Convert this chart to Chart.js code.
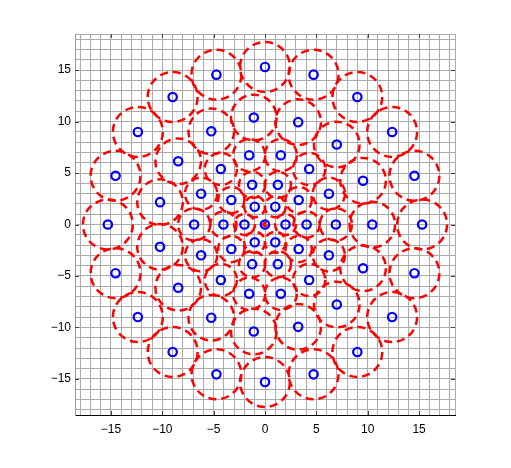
<!DOCTYPE html>
<html><head><meta charset="utf-8">
<script src="https://cdn.jsdelivr.net/npm/chart.js@4/dist/chart.umd.min.js"></script>
<style>html,body{margin:0;padding:0;background:#fff}</style>
</head><body>
<canvas id="c" width="511" height="468" style="display:block;width:511px;height:468px"></canvas>
<script>
// Element centres
const pointX = [0,
  2, 1, -1, -2, -1, 1,
  4.05, 3.28, 1.25, -1.25, -3.28, -4.05, -3.28, -1.25, 1.25, 3.28,
  6.9, 6.22, 4.30, 1.54, -1.54, -4.30, -6.22, -6.9, -6.22, -4.30, -1.54, 1.54, 4.30, 6.22,
  10.45, 9.55, 6.99, 3.23, -1.09, -5.23, -8.45, -10.22, -10.22, -8.45, -5.23, -1.09, 3.23, 6.99, 9.55,
  15.3, 14.55, 12.38, 8.99, 4.73, 0, -4.73, -8.99, -12.38, -14.55, -15.3, -14.55, -12.38, -8.99, -4.73, 0, 4.73, 8.99, 12.38, 14.55];
const pointY = [0,
  0, 1.73, 1.73, 0, -1.73, -1.73,
  0, 2.38, 3.85, 3.85, 2.38, 0, -2.38, -3.85, -3.85, -2.38,
  0, 2.99, 5.39, 6.73, 6.73, 5.39, 2.99, 0, -2.99, -5.39, -6.73, -6.73, -5.39, -2.99,
  0, 4.25, 7.77, 9.94, 10.39, 9.05, 6.14, 2.17, -2.17, -6.14, -9.05, -10.39, -9.94, -7.77, -4.25,
  0, 4.73, 8.99, 12.38, 14.55, 15.3, 14.55, 12.38, 8.99, 4.73, 0, -4.73, -8.99, -12.38, -14.55, -15.3, -14.55, -12.38, -8.99, -4.73];
// Radius (data units) of the dashed circle around each element
const circleR = [0.15,
  1.02, 1.02, 1.02, 1.02, 1.02, 1.02,
  1.28, 1.28, 1.28, 1.28, 1.28, 1.28, 1.28, 1.28, 1.28, 1.28,
  1.57, 1.57, 1.57, 1.57, 1.57, 1.57, 1.57, 1.57, 1.57, 1.57, 1.57, 1.57, 1.57, 1.57,
  2.22, 2.22, 2.22, 2.22, 2.22, 2.22, 2.22, 2.22, 2.22, 2.22, 2.22, 2.22, 2.22, 2.22, 2.22,
  2.43, 2.43, 2.43, 2.43, 2.43, 2.43, 2.43, 2.43, 2.43, 2.43, 2.43, 2.43, 2.43, 2.43, 2.43, 2.43, 2.43, 2.43, 2.43, 2.43];
const tickValues = [-15, -10, -5, 0, 5, 10, 15];
const axisMin = -18.5, axisMax = 18.5;

const pts = pointX.map((x, i) => ({x: x, y: pointY[i]}));
const gridTicks = [axisMin];
for (let v = Math.ceil(axisMin); v <= Math.floor(axisMax); v++) gridTicks.push(v);
gridTicks.push(axisMax);

const fmt = v => (v < 0 ? '\u2212' + Math.abs(v) : String(v));
const FONT = {family: "'Liberation Sans', Arial, Helvetica, sans-serif", size: 12};

const dashPlugin = {
  id: 'dash',
  beforeDatasetDraw(chart, args) { if (args.index === 1) chart.ctx.setLineDash([8, 5]); },
  afterDatasetDraw(chart, args) { if (args.index === 1) chart.ctx.setLineDash([]); }
};
const innerTicks = {
  id: 'innerTicks',
  afterDraw(chart) {
    const {ctx, chartArea: a, scales: {x, y}} = chart;
    ctx.save();
    ctx.strokeStyle = '#444';
    ctx.lineWidth = 1;
    ctx.beginPath();
    tickValues.forEach(v => {
      const px = Math.round(x.getPixelForValue(v)) + 0.5;
      const py = Math.round(y.getPixelForValue(v)) + 0.5;
      ctx.moveTo(px, a.bottom); ctx.lineTo(px, a.bottom - 4);
      ctx.moveTo(px, a.top); ctx.lineTo(px, a.top + 4);
      ctx.moveTo(a.left, py); ctx.lineTo(a.left + 4, py);
      ctx.moveTo(a.right, py); ctx.lineTo(a.right - 4, py);
    });
    ctx.stroke();
    ctx.restore();
  }
};

function axis(isX) {
  return {
    type: 'linear', min: axisMin, max: axisMax,
    afterBuildTicks: s => { s.ticks = gridTicks.map(v => ({value: v})); },
    afterFit: s => { if (isX) s.height = 53; else s.width = 75; },
    ticks: {
      autoSkip: false, maxRotation: 0, minRotation: 0,
      callback: v => (tickValues.includes(v) ? fmt(v) : ''),
      color: '#000', font: FONT, padding: isX ? 7 : 4
    },
    grid: {color: '#ababab', lineWidth: 1, drawTicks: false},
    border: {color: isX ? '#000' : '#9a9a9a', width: 1}
  };
}

new Chart(document.getElementById('c'), {
  type: 'scatter',
  data: {
    datasets: [
      {
        label: 'elements', data: pts,
        pointRadius: 4.2, pointBorderWidth: 2.2,
        pointBorderColor: '#0000ff', pointBackgroundColor: 'rgba(0,0,0,0)'
      },
      {
        label: 'circles', data: pts,
        pointRadius: ctx => {
          const s = ctx.chart.scales.x;
          if (!s) return 0;
          return Math.abs(s.getPixelForValue(circleR[ctx.dataIndex]) - s.getPixelForValue(0));
        },
        pointBorderWidth: 2.5,
        pointBorderColor: '#ff0000', pointBackgroundColor: 'rgba(0,0,0,0)'
      }
    ]
  },
  options: {
    responsive: false, devicePixelRatio: 1, animation: false, events: [],
    layout: {padding: {left: 0, top: 34, right: 56, bottom: 0}},
    plugins: {legend: {display: false}, tooltip: {enabled: false}},
    scales: {x: axis(true), y: axis(false)}
  },
  plugins: [dashPlugin, innerTicks]
});
</script>
</body></html>
